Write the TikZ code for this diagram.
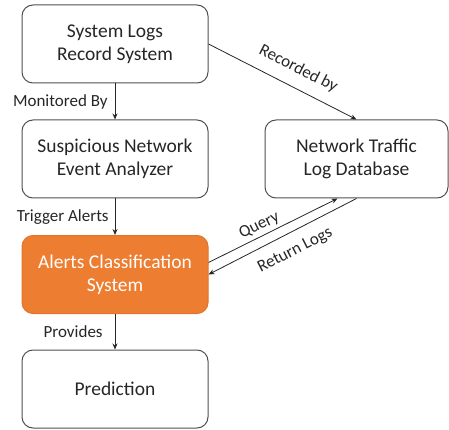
\documentclass[tikz,border=0pt]{standalone}
\usepackage{fontspec}
\setmainfont{Carlito}
\usetikzlibrary{arrows.meta,calc}
\definecolor{boxline}{HTML}{505050}
\definecolor{orangefill}{HTML}{ED7D31}
\definecolor{orangeline}{HTML}{E0742A}
\definecolor{txt}{HTML}{262626}
\tikzset{
  box/.style={draw=boxline, line width=1pt, rounded corners=11pt, minimum width=186pt,
    minimum height=78pt, align=center, font=\fontsize{19.5}{23}\selectfont, text=txt, inner sep=2pt},
  hot/.style={box, fill=orangefill, draw=orangeline, text=white},
  conn/.style={draw=txt, line width=0.8pt, -{Stealth[length=6pt,width=5pt]}},
  lbl/.style={font=\fontsize{17}{19}\selectfont, text=txt, inner sep=2pt}
}
\begin{document}
\begin{tikzpicture}[x=1pt,y=-1pt]
\useasboundingbox (0,0) rectangle (449,430);
\node[box] (b1) at (115,44) {System Logs\\Record System};
\node[box] (b2) at (115,159) {Suspicious Network\\Event Analyzer};
\node[box, minimum width=183pt] (b3) at (356.5,159) {Network Traffic\\Log Database};
\node[hot] (b4) at (115,274.5) {Alerts Classification\\System};
\node[box] (b5) at (115,389) {Prediction};
\draw[conn] (b1) -- node[lbl, left, xshift=-5pt] {Monitored By} (b2);
\draw[conn] (b2) -- node[lbl, left, xshift=-4pt] {Trigger Alerts} (b4);
\draw[conn] (b4) -- node[lbl, left, xshift=-10pt] {Provides} (b5);
\draw[conn] (b1.east) -- node[lbl, sloped, above, pos=0.55, yshift=9pt] {Recorded by} (b3.north);
\coordinate (q1) at ($(b4.east)+(0,-12)$);
\coordinate (q2) at ($(b3.south)+(-19,0)$);
\draw[conn] (q1) -- node[lbl, sloped, above, pos=0.43, yshift=1pt] {Query} (q2);
\draw[conn] (b3.south) -- node[lbl, sloped, below, pos=0.47, yshift=-9pt] {Return Logs} (b4.east);
\end{tikzpicture}
\end{document}
